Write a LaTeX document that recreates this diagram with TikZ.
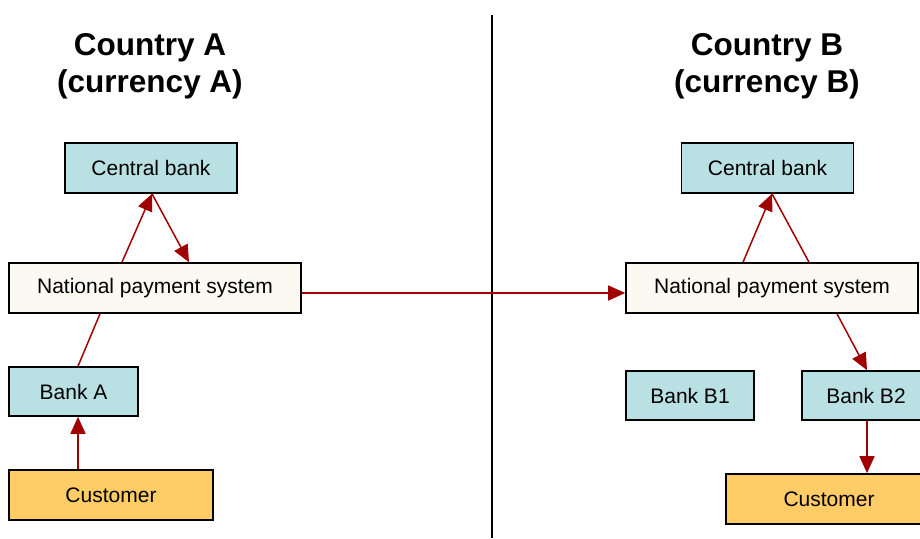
\documentclass[tikz,border=0pt]{standalone}
\usepackage{fontspec}
\setmainfont{Liberation Sans}
\usetikzlibrary{arrows.meta}
\definecolor{bankfill}{HTML}{B9E0E3}
\definecolor{payfill}{HTML}{FCF9F2}
\definecolor{custfill}{HTML}{FFCC66}
\definecolor{flowred}{HTML}{A00000}
\tikzset{
	box/.style={draw=black, line width=1.6pt, inner sep=0pt, font=\fontsize{21}{25}\selectfont},
	bank/.style={box, fill=bankfill, minimum height=50pt},
	paysys/.style={box, fill=payfill, minimum width=292pt, minimum height=50pt},
	client/.style={box, fill=custfill, minimum height=50pt},
	title/.style={align=center, inner sep=0pt, font=\bfseries\fontsize{31.5}{37}\selectfont},
	flow/.style={color=flowred, line width=1.5pt},
	flowtip/.style={-{Triangle[length=17pt,width=15pt]}}
}

\begin{document}
\begin{tikzpicture}[x=1pt, y=-1pt]
	\useasboundingbox (0,0) rectangle (920,538);
	% country A
	\node[title] (titleA) at (150,66) {Country A\\(currency A)};
	\node[bank, minimum width=172pt] (cbA) at (151,168) {Central bank};
	\node[paysys] (npsA) at (155,288) {National payment system};
	\node[bank, minimum width=129pt, minimum height=49pt] (bankA) at (73.5,391.5) {Bank A};
	\node[client, minimum width=204pt] (custA) at (111,495) {Customer};
	% country B
	\node[title] (titleB) at (767,66) {Country B\\(currency B)};
	\node[bank, minimum width=172pt] (cbB) at (767.5,168) {Central bank};
	\node[paysys] (npsB) at (772,288) {National payment system};
	\node[bank, minimum width=128pt, minimum height=49pt] (bankB1) at (690,395.5) {Bank B1};
	\node[bank, minimum width=128pt, minimum height=49pt] (bankB2) at (866,395.5) {Bank B2};
	\node[client, minimum width=206pt] (custB) at (829,499) {Customer};
	% border
	\coordinate (borderTop) at (492,15);
	\coordinate (borderBot) at (492,538);
	\draw[line width=1.6pt] (borderTop) -- (borderBot);
	\path[flow]
		([xshift=-33pt]npsA.north) edge [flowtip] ([xshift=1pt]cbA.south)
		([xshift=1pt]cbA.south) edge [flowtip] ([xshift=34pt]npsA.north)
		([xshift=-55pt]npsA.south) edge ([xshift=4.5pt]bankA.north)
		([xshift=-33pt]custA.north) edge [flowtip] ([xshift=4.5pt]bankA.south)
		([yshift=-5pt]npsA.east) edge [flowtip] ([yshift=-5pt]npsB.west)
		([xshift=-29pt]npsB.north) edge [flowtip] ([xshift=4.5pt]cbB.south)
		([xshift=4.5pt]cbB.south) edge ([xshift=37pt]npsB.north)
		([xshift=65pt]npsB.south) edge [flowtip] ([xshift=1pt]bankB2.north)
		([xshift=1pt]bankB2.south) edge [flowtip] ([xshift=38pt]custB.north)
		;
\end{tikzpicture}
\end{document}
